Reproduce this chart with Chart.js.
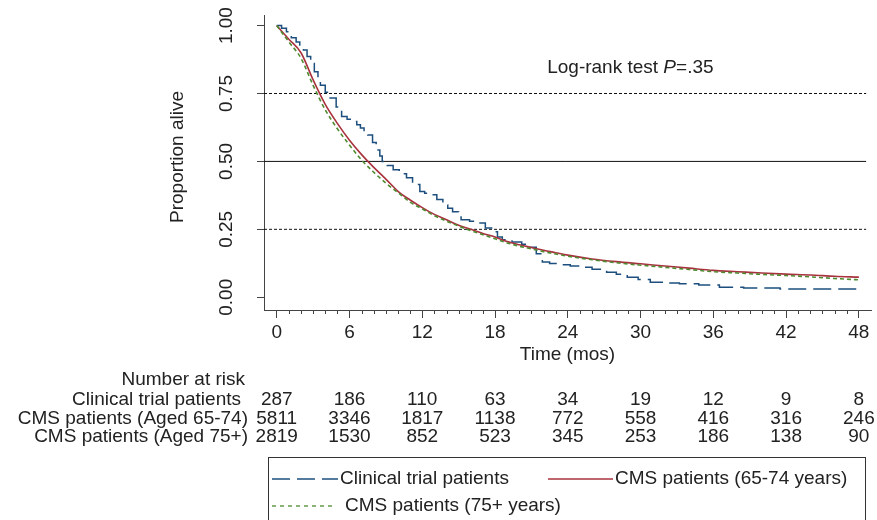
<!DOCTYPE html>
<html>
<head>
<meta charset="utf-8">
<script src="https://cdn.jsdelivr.net/npm/chart.js@4.4.1/dist/chart.umd.min.js"></script>
<style>
  html, body { margin: 0; padding: 0; background: #fff; }
</style>
</head>
<body>
<canvas id="km" width="877" height="520"></canvas>
<script>
// Kaplan-Meier estimates (months, proportion alive)
const trialTimes = [0, 0.4, 0.8, 1.2, 1.6, 1.9, 2.2, 2.5, 2.8, 3.1, 3.4, 3.6, 4.0, 4.4, 4.9, 5.35, 5.8, 6.2, 6.6, 6.9,
  7.2, 7.5, 7.9, 8.2, 8.5, 8.7, 9.1, 9.6, 10.1, 10.7, 11.2, 11.8, 12.2, 12.6, 13.2, 13.7, 14.1, 14.5, 15.0, 15.2,
  15.9, 16.5, 17.2, 17.8, 18.2, 18.6, 19.4, 20.2, 20.9, 21.4, 21.9, 22.5, 23.3, 24.2, 25.0, 26.0, 27.2, 28.0, 28.9, 29.8,
  30.8, 32.0, 33.2, 34.8, 36.5, 38.5, 41.5, 48];
const trialSurv = [1, 0.99, 0.977, 0.955, 0.94, 0.929, 0.91, 0.886, 0.86, 0.83, 0.80, 0.78, 0.755, 0.733, 0.70, 0.665, 0.655, 0.647, 0.635, 0.623,
  0.61, 0.597, 0.57, 0.542, 0.52, 0.50, 0.485, 0.469, 0.455, 0.44, 0.415, 0.389, 0.383, 0.377, 0.36, 0.34, 0.328, 0.315, 0.30, 0.285,
  0.28, 0.273, 0.255, 0.241, 0.222, 0.212, 0.203, 0.195, 0.184, 0.16, 0.13, 0.124, 0.12, 0.115, 0.11, 0.103, 0.092, 0.085, 0.074, 0.065,
  0.055, 0.052, 0.05, 0.045, 0.037, 0.034, 0.03, 0.03];

const cmsTimes = [0, 1, 2, 3, 4, 5, 6, 7, 8, 9, 10, 11, 12, 13, 14, 15, 16, 17, 18, 19, 20, 21, 22, 23, 24,
  26, 28, 30, 32, 34, 36, 38, 40, 42, 44, 46, 48];
const cms6574Surv = [1, 0.95, 0.90, 0.80, 0.71, 0.64, 0.578, 0.525, 0.478, 0.435, 0.39, 0.358, 0.33, 0.305, 0.285, 0.265, 0.25, 0.235, 0.222, 0.205, 0.193, 0.183, 0.173, 0.164, 0.155,
  0.141, 0.131, 0.123, 0.115, 0.107, 0.099, 0.094, 0.089, 0.085, 0.082, 0.077, 0.074];
const cms75Surv = [1, 0.94, 0.88, 0.78, 0.69, 0.62, 0.56, 0.505, 0.46, 0.42, 0.385, 0.35, 0.325, 0.30, 0.28, 0.262, 0.245, 0.23, 0.215, 0.20, 0.188, 0.178, 0.168, 0.159, 0.151,
  0.138, 0.127, 0.118, 0.11, 0.102, 0.094, 0.089, 0.084, 0.08, 0.075, 0.069, 0.064];

const seriesNames = ['Clinical trial patients', 'CMS patients (65-74 years)', 'CMS patients (75+ years)'];

const xTicks = [0, 6, 12, 18, 24, 30, 36, 42, 48];
const yTicks = [0, 0.25, 0.5, 0.75, 1];
const yTickLabels = ['0.00', '0.25', '0.50', '0.75', '1.00'];
const refLevels = [0.75, 0.5, 0.25];

// number at risk table
const riskGroups = ['Clinical trial patients', 'CMS patients (Aged 65-74)', 'CMS patients (Aged 75+)'];
const riskTrial = [287, 186, 110, 63, 34, 19, 12, 9, 8];
const risk6574 = [5811, 3346, 1817, 1138, 772, 558, 416, 316, 246];
const risk75 = [2819, 1530, 852, 523, 345, 253, 186, 138, 90];

const FONT = '"Liberation Sans", Arial, Helvetica, sans-serif';
const BLUE = '#1d4f7e';
const RED = '#a8323e';
const GREEN = '#4e8b30';
const AXIS = '#444';
const TEXT = '#222';

function pts(times, vals) {
    return times.map((t, i) => ({ x: t, y: vals[i] }));
}

// reference lines at the quartiles
const refSets = refLevels.map(level => ({
    data: [{ x: -1.05, y: level }, { x: 48.6, y: level }],
    borderColor: '#111',
    borderWidth: 1,
    borderDash: level === 0.5 ? [] : [3, 2],
    pointRadius: 0,
    order: 10
}));

const extras = {
    id: 'extras',
    afterDraw(chart) {
        const ctx = chart.ctx;
        const xs = chart.scales.x;
        const ys = chart.scales.y;
        const bottom = chart.chartArea.bottom;
        ctx.save();

        // minor ticks every month
        ctx.strokeStyle = AXIS;
        ctx.lineWidth = 1;
        for (let m = 1; m < 48; m++) {
            if (m % 6 === 0) continue;
            const px = Math.round(xs.getPixelForValue(m)) + 0.5;
            ctx.beginPath();
            ctx.moveTo(px, bottom);
            ctx.lineTo(px, bottom + 4);
            ctx.stroke();
        }

        ctx.fillStyle = TEXT;
        ctx.font = '19px ' + FONT;

        // rotated y tick labels
        yTicks.forEach((v, i) => {
            ctx.save();
            ctx.translate(227, ys.getPixelForValue(v));
            ctx.rotate(-Math.PI / 2);
            ctx.textAlign = 'center';
            ctx.textBaseline = 'middle';
            ctx.fillText(yTickLabels[i], 0, 0);
            ctx.restore();
        });

        // y axis title
        ctx.save();
        ctx.translate(178, 157);
        ctx.rotate(-Math.PI / 2);
        ctx.textAlign = 'center';
        ctx.textBaseline = 'middle';
        ctx.fillText('Proportion alive', 0, 0);
        ctx.restore();

        // x axis title
        ctx.textAlign = 'center';
        ctx.textBaseline = 'middle';
        ctx.fillText('Time (mos)', (chart.chartArea.left + chart.chartArea.right) / 2, 355);

        // log-rank annotation
        ctx.textAlign = 'left';
        let tx = xs.getPixelForValue(22.3);
        const ty = ys.getPixelForValue(0.845);
        const parts = [['Log-rank test ', ''], ['P', 'italic '], ['=.35', '']];
        parts.forEach(([s, style]) => {
            ctx.font = style + '19px ' + FONT;
            ctx.fillText(s, tx, ty);
            tx += ctx.measureText(s).width;
        });

        // number at risk
        ctx.font = '19px ' + FONT;
        ctx.textAlign = 'right';
        ctx.fillText('Number at risk', 245, 380);
        const rows = [riskTrial, risk6574, risk75];
        rows.forEach((row, r) => {
            const ry = 400 + r * 18.3;
            ctx.textAlign = 'right';
            ctx.fillText(riskGroups[r], r === 0 ? 241 : 248, ry);
            ctx.textAlign = 'center';
            row.forEach((n, i) => {
                ctx.fillText(String(n), xs.getPixelForValue(xTicks[i]), ry);
            });
        });

        // legend box
        ctx.strokeStyle = '#333';
        ctx.lineWidth = 1;
        ctx.strokeRect(268.5, 457.5, 597, 90);
        const entries = [
            { color: BLUE, dash: [18, 7], x0: 272, x1: 338, tx: 340, y: 479 },
            { color: RED, dash: [], x0: 548, x1: 613, tx: 615, y: 479 },
            { color: GREEN, dash: [4, 4], x0: 272, x1: 334, tx: 345, y: 506 }
        ];
        entries.forEach((e, i) => {
            ctx.strokeStyle = e.color;
            ctx.lineWidth = 1.3;
            ctx.setLineDash(e.dash);
            ctx.beginPath();
            ctx.moveTo(e.x0, e.y);
            ctx.lineTo(e.x1, e.y);
            ctx.stroke();
            ctx.setLineDash([]);
            ctx.textAlign = 'left';
            ctx.fillText(seriesNames[i], e.tx, e.y);
        });

        ctx.restore();
    }
};

new Chart(document.getElementById('km'), {
    type: 'line',
    data: {
        datasets: [
            ...refSets,
            {
                label: seriesNames[0],
                data: pts(trialTimes, trialSurv),
                borderColor: BLUE,
                borderWidth: 1.5,
                borderDash: [18, 7],
                stepped: true,
                pointRadius: 0,
                order: 3
            },
            {
                label: seriesNames[1],
                data: pts(cmsTimes, cms6574Surv),
                borderColor: RED,
                borderWidth: 1.6,
                cubicInterpolationMode: 'monotone',
                pointRadius: 0,
                order: 2
            },
            {
                label: seriesNames[2],
                data: pts(cmsTimes, cms75Surv),
                borderColor: GREEN,
                borderWidth: 1.6,
                borderDash: [4, 3],
                cubicInterpolationMode: 'monotone',
                pointRadius: 0,
                order: 1
            }
        ]
    },
    options: {
        responsive: false,
        animation: false,
        layout: { padding: { left: 0, top: 15, right: 6, bottom: 0 } },
        plugins: { legend: { display: false }, tooltip: { enabled: false } },
        scales: {
            x: {
                type: 'linear',
                min: -1.05,
                max: 49,
                afterBuildTicks: s => { s.ticks = xTicks.map(v => ({ value: v })); },
                afterFit: s => { s.height = 210; },
                grid: { drawOnChartArea: false, tickLength: 8, color: AXIS },
                border: { color: AXIS, width: 1 },
                ticks: {
                    font: { family: FONT, size: 19 },
                    color: TEXT,
                    padding: 3,
                    maxRotation: 0,
                    autoSkip: false,
                    callback: v => String(v)
                }
            },
            y: {
                type: 'linear',
                min: -0.047,
                max: 1.039,
                afterBuildTicks: s => { s.ticks = yTicks.map(v => ({ value: v })); },
                afterFit: s => { s.width = 264; },
                grid: { drawOnChartArea: false, tickLength: 7, color: AXIS },
                border: { color: AXIS, width: 1 },
                ticks: { display: false }
            }
        }
    },
    plugins: [extras]
});
</script>
</body>
</html>
